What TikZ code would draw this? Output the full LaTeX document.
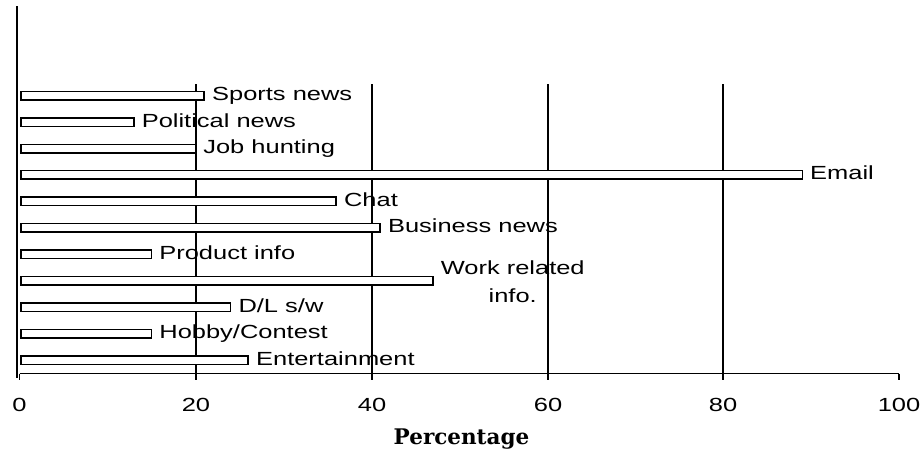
\documentclass[tikz,border=0pt]{standalone}
\usepackage{fontspec}
\newfontfamily\lblfont[FakeStretch=1.34]{Liberation Sans}
\newfontfamily\ttlfont{DejaVu Serif}
\begin{document}
\begin{tikzpicture}[x=1pt,y=-1pt,
  bar/.style={draw=black, fill=white, line width=1.5pt, inner sep=0pt,
    minimum height=8.5pt, anchor=west},
  lbl/.style={anchor=west, inner sep=0pt, align=center,
    font=\lblfont\fontsize{19}{28}\selectfont, text height=14pt, text depth=4pt},
  ticklbl/.style={anchor=base, inner sep=0pt, font=\lblfont\fontsize{19}{23}\selectfont},
  gridln/.style={line width=1.8pt, draw=black},
  axisln/.style={line width=1.8pt, draw=black}]
\useasboundingbox (0,0) rectangle (921,453);
\fill[white] (0,0) rectangle (921,453);
% grid lines
\foreach \x in {196,372,548,723}{
  \draw[gridln] (\x,84) -- (\x,373.5);
}
% axis
\coordinate (xa0) at (19.5,373.5);
\coordinate (xa1) at (899,373.5);
\draw[axisln] (xa0) -- (xa1);
\foreach \v/\x in {0/19.5,20/196,40/372,60/548,80/723,100/899}{
  \draw[axisln] (\x,373.5) -- (\x,379.5);
  \node[ticklbl] (t\v) at (\x,411) {\v};
}
\coordinate (ya0) at (16.7,6);
\coordinate (ya1) at (16.7,378);
\draw[line width=2.2pt] (ya0) -- (ya1);
% bars and labels
\foreach \v/\txt [count=\i from 0] in {
  21/{Sports news},
  13/{Political news},
  20/{Job hunting},
  89/{Email},
  36/{Chat},
  41/{Business news},
  15/{Product info},
  47/{Work related\\info.},
  24/{D/L s/w},
  15/{Hobby/Contest},
  26/{Entertainment}}{
  \node[bar, minimum width=\v*8.795pt-1.5pt] (b\i) at (19.5+0.75, {95.7+26.43*\i}) {};
  \ifnum\i=7
    \node[lbl, text height={}, text depth={}] (l\i) at ([xshift=7pt,yshift=-1pt]b\i.east) {\txt};
  \else
    \node[lbl] (l\i) at ([xshift=7pt]b\i.east) {\txt};
  \fi
}
\node[anchor=base, inner sep=0pt, font=\ttlfont\bfseries\fontsize{21.5}{26}\selectfont] (title) at (461.5,444.3) {Percentage};
\end{tikzpicture}
\end{document}
